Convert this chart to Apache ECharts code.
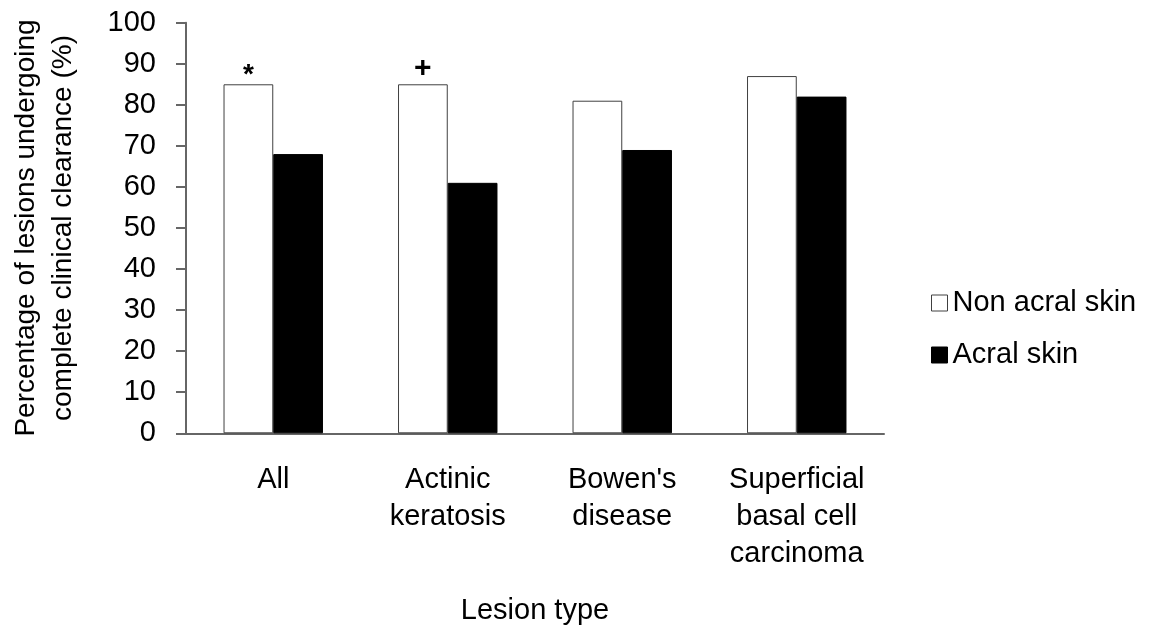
<!DOCTYPE html>
<html>
<head>
<meta charset="utf-8">
<script src="https://cdn.jsdelivr.net/npm/echarts@6/dist/echarts.min.js"></script>
<style>html,body{margin:0;padding:0;background:#fff;}#c{width:1166px;height:635px;}</style>
</head>
<body>
<div id="c"></div>
<script>
const categories = ['All', 'Actinic\nkeratosis', "Bowen's\ndisease", 'Superficial\nbasal cell\ncarcinoma'];
const nonAcral = [85, 85, 81, 87];
const acral = [68, 61, 69, 82];
const annotations = ['*', '+', '', ''];
const yTicks = [0, 10, 20, 30, 40, 50, 60, 70, 80, 90, 100];

const FONT = 'Liberation Sans, Arial, sans-serif';
const chart = echarts.init(document.getElementById('c'), null, {renderer: 'canvas'});
chart.setOption({
  animation: false,
  backgroundColor: '#ffffff',
  grid: {left: 184, right: 282, top: 22.7, bottom: 201.7, containLabel: false},
  legend: {
    orient: 'vertical', left: 926, top: 283, itemGap: 22,
    itemWidth: 16, itemHeight: 16, icon: 'rect',
    textStyle: {fontFamily: FONT, fontSize: 29, color: '#000', lineHeight: 30},
    data: [
      {name: 'Non acral skin', itemStyle: {color: '#fff', borderColor: '#404040', borderWidth: 1}},
      {name: 'Acral skin', itemStyle: {color: '#000', borderColor: '#000', borderWidth: 1}}
    ]
  },
  xAxis: {
    type: 'category', data: categories,
    name: 'Lesion type', nameLocation: 'middle', nameGap: 163,
    nameTextStyle: {fontFamily: FONT, fontSize: 29, color: '#000'},
    axisLine: {show: true, lineStyle: {color: '#666', width: 2}},
    axisTick: {show: false},
    axisLabel: {fontFamily: FONT, fontSize: 29, color: '#000', lineHeight: 37, margin: 28, interval: 0}
  },
  yAxis: {
    type: 'value', min: yTicks[0], max: yTicks[yTicks.length - 1], interval: 10,
    name: 'Percentage of lesions undergoing\ncomplete clinical clearance (%)',
    nameLocation: 'middle', nameGap: 104, nameRotate: 90,
    nameTextStyle: {fontFamily: FONT, fontSize: 28, color: '#000', lineHeight: 37},
    axisLine: {show: true, lineStyle: {color: '#666', width: 2}},
    axisTick: {show: true, inside: false, length: 10, lineStyle: {color: '#666', width: 2}},
    splitLine: {show: false},
    axisLabel: {fontFamily: FONT, fontSize: 29, color: '#000', margin: 30}
  },
  series: [
    {
      name: 'Non acral skin', type: 'bar', barGap: '0%', barCategoryGap: '43%',
      itemStyle: {color: '#fff', borderColor: '#404040', borderWidth: 1},
      data: nonAcral.map((v, i) => ({
        value: v,
        label: {show: annotations[i] !== '', position: 'top',
          distance: annotations[i] === '*' ? -5 : 1,
          formatter: annotations[i], fontFamily: FONT,
          fontSize: annotations[i] === '+' ? 30 : 28,
          fontWeight: 'bold', color: '#000'}
      }))
    },
    {
      name: 'Acral skin', type: 'bar', barGap: '0%', barCategoryGap: '43%',
      itemStyle: {color: '#000', borderColor: '#000', borderWidth: 1},
      data: acral
    }
  ]
});
</script>
</body>
</html>
